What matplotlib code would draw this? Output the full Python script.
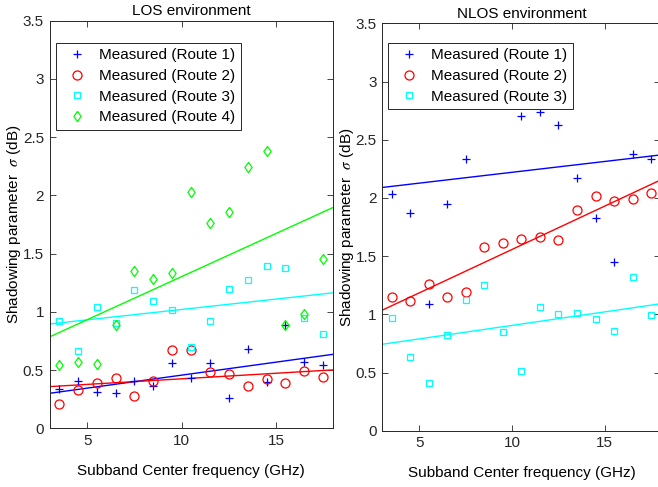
import numpy as np
import matplotlib
matplotlib.use("Agg")
import matplotlib.pyplot as plt
from matplotlib.ticker import FuncFormatter

plt.rcParams['font.family'] = ['Liberation Sans', 'DejaVu Sans']
plt.rcParams['mathtext.fontset'] = 'stix'

# subband centre frequencies (GHz)
freq = np.arange(3.5, 18.0, 1.0)

# LOS shadowing parameter per route (dB)
los_route1 = [0.34, 0.41, 0.31, 0.30, 0.41, 0.36, 0.56, 0.43, 0.56, 0.26, 0.68, 0.40, 0.885, 0.57, 0.54]
los_route2 = [0.21, 0.33, 0.39, 0.435, 0.28, 0.41, 0.67, 0.67, 0.48, 0.47, 0.36, 0.42, 0.39, 0.49, 0.44]
los_route3 = [0.92, 0.66, 1.04, 0.90, 1.19, 1.09, 1.02, 0.70, 0.92, 1.20, 1.27, 1.39, 1.38, 0.95, 0.81]
los_route4 = [0.54, 0.57, 0.55, 0.89, 1.35, 1.28, 1.33, 2.03, 1.76, 1.86, 2.24, 2.38, 0.885, 0.98, 1.45]

# NLOS shadowing parameter per route (dB)
nlos_route1 = [2.03, 1.87, 1.09, 1.945, 2.33, 2.85, 3.10, 2.70, 2.735, 2.63, 2.17, 1.83, 1.45, 2.38, 2.33]
nlos_route2 = [1.15, 1.11, 1.26, 1.15, 1.19, 1.58, 1.61, 1.645, 1.66, 1.64, 1.90, 2.02, 1.976, 1.99, 2.04]
nlos_route3 = [0.965, 0.63, 0.41, 0.82, 1.12, 1.25, 0.845, 0.51, 1.06, 1.00, 1.01, 0.957, 0.86, 1.32, 0.99]

# diamond a bit wider than matplotlib's thin 'd'
diamond = [(0, 1), (0.72, 0), (0, -1), (-0.72, 0), (0, 1)]

# colour, marker, marker size per route
styles = [('#0000ff', '+', 6.0),
          ('#ff0000', 'o', 6.5),
          ('#00ffff', 's', 5.0),
          ('#00ff00', diamond, 7.3)]

W, H = 658, 487
fig = plt.figure(figsize=(W / 100, H / 100), dpi=100)
ax1 = fig.add_axes([49.5 / W, 1 - 428.3 / H, 283.2 / W, 407.6 / H])
ax2 = fig.add_axes([382.3 / W, 1 - 430.7 / H, 278.2 / W, 407.4 / H])

xfit = np.array([3.0, 18.0])
ink = '#262626'


def draw_panel(ax, routes, title, anchor):
    for i, vals in enumerate(routes):
        color, marker, ms = styles[i]
        ax.plot(freq, vals, linestyle='none', marker=marker, ms=ms,
                mfc='none', mec=color, mew=0.9,
                label='Measured (Route %d)' % (i + 1), zorder=3)
    # least-squares trend for each route
    for i, vals in enumerate(routes):
        color = styles[i][0]
        k, b = np.polyfit(freq, vals, 1)
        ax.plot(xfit, k * xfit + b, color=color, lw=1.0, zorder=2)

    ax.set_xlim(3, 18)
    ax.set_ylim(0, 3.5)
    ax.set_xticks([5, 10, 15])
    ax.set_yticks(np.arange(0, 3.51, 0.5))
    ax.yaxis.set_major_formatter(FuncFormatter(lambda v, p: '%g' % v))
    ax.tick_params(direction='in', top=True, right=True, length=4,
                   width=0.6, colors=ink, labelsize=11, pad=4)
    for s in ax.spines.values():
        s.set_color(ink)
        s.set_linewidth(0.7)
    ax.set_title(title, fontsize=11, pad=4, color='black')
    ax.set_xlabel('Subband Center frequency (GHz)', fontsize=11, labelpad=11.5)
    ax.set_ylabel(r'Shadowing parameter  $\sigma$ (dB)', fontsize=11, labelpad=0)

    leg = ax.legend(loc='upper left', bbox_to_anchor=anchor, borderaxespad=0,
                    fontsize=11, labelspacing=0.44, borderpad=0.36,
                    handlelength=2.0, handletextpad=0.45, fancybox=False,
                    framealpha=1, edgecolor=ink)
    leg.get_frame().set_linewidth(0.7)
    leg.set_zorder(5)


draw_panel(ax1, [los_route1, los_route2, los_route3, los_route4],
           'LOS environment', (0.023, 0.946))
draw_panel(ax2, [nlos_route1, nlos_route2, nlos_route3],
           'NLOS environment', (0.0205, 0.952))

fig.savefig('out.png', dpi=100)
